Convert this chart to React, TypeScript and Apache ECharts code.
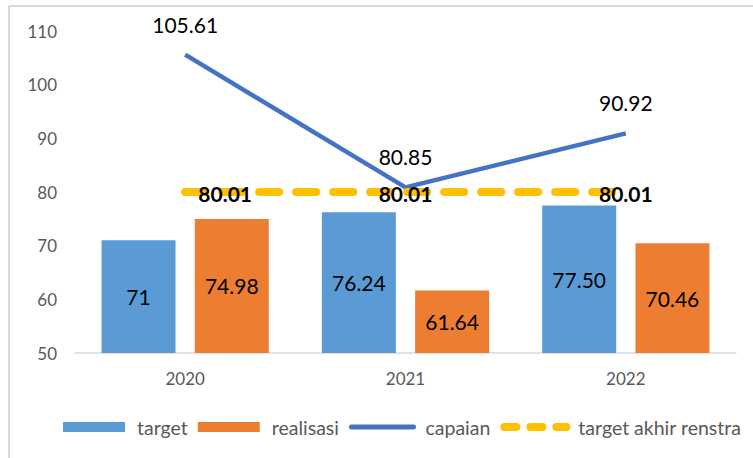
import React, { useEffect, useRef } from "react";
import * as echarts from "echarts";

const categories = ["2020", "2021", "2022"];
const targetValues = [71, 76.24, 77.5];
const targetLabels = ["71", "76.24", "77.50"];
const realisasiValues = [74.98, 61.64, 70.46];
const capaianValues = [105.61, 80.85, 90.92];
const renstraValues = [80.01, 80.01, 80.01];
const yTicks = { min: 50, max: 110, interval: 10 };

const FONT = "Lato, 'Noto Sans', sans-serif";

export default function App() {
  const ref = useRef<HTMLDivElement>(null);
  useEffect(() => {
    if (!ref.current) return;
    const chart = echarts.init(ref.current, undefined, { renderer: "svg" });
    chart.setOption({
      animation: false,
      backgroundColor: "#ffffff",
      textStyle: { fontFamily: FONT },
      grid: { left: 75, right: 17, top: 31, bottom: 105 },
      graphic: [
        { type: "line", shape: { x1: 9, y1: 6, x2: 753, y2: 6 }, style: { stroke: "#d9d9d9", lineWidth: 2 } },
        { type: "line", shape: { x1: 9, y1: 6, x2: 9, y2: 458 }, style: { stroke: "#d9d9d9", lineWidth: 2 } },
      ],
      legend: {
        top: 412,
        left: 58,
        itemWidth: 62,
        itemHeight: 10,
        itemGap: 10,
        textStyle: { fontSize: 19.5, color: "#595959", fontFamily: FONT, padding: [0, 0, 0, 7] },
        data: [
          { name: "target", icon: "rect" },
          { name: "realisasi", icon: "rect" },
          {
            name: "capaian",
            itemStyle: { opacity: 0 },
            lineStyle: { width: 5, color: "#4472C4", cap: "round" },
          },
          {
            name: "target akhir renstra",
            itemStyle: { opacity: 0 },
            lineStyle: { width: 8, color: "#FFC000", type: [12, 14], cap: "round" },
          },
        ],
      },
      xAxis: {
        type: "category",
        data: categories,
        axisLine: { show: true, lineStyle: { color: "#d9d9d9", width: 1.5 } },
        axisTick: { show: false },
        axisLabel: { fontSize: 17, color: "#595959", margin: 17, fontFamily: FONT },
      },
      yAxis: {
        type: "value",
        min: yTicks.min,
        max: yTicks.max,
        interval: yTicks.interval,
        splitLine: { show: false },
        axisLine: { show: false },
        axisTick: { show: false },
        axisLabel: { fontSize: 17, color: "#595959", margin: 18, fontFamily: FONT },
      },
      series: [
        {
          name: "target",
          type: "bar",
          data: targetValues,
          barWidth: 74,
          barGap: "26%",
          itemStyle: { color: "#5B9BD5" },
          label: {
            show: true,
            position: "inside",
            fontSize: 21,
            color: "#000",
            fontFamily: FONT,
            formatter: (p: any) => targetLabels[p.dataIndex],
          },
        },
        {
          name: "realisasi",
          type: "bar",
          data: realisasiValues,
          barWidth: 74,
          itemStyle: { color: "#ED7D31" },
          label: {
            show: true,
            position: "inside",
            fontSize: 21,
            color: "#000",
            fontFamily: FONT,
            formatter: (p: any) => p.value.toFixed(2),
          },
        },
        {
          name: "capaian",
          type: "line",
          data: capaianValues,
          symbol: "circle",
          symbolSize: 0.1,
          showSymbol: true,
          z: 3,
          lineStyle: { color: "#4472C4", width: 4.5 },
          itemStyle: { color: "#4472C4" },
          label: {
            show: true,
            position: "top",
            distance: 20,
            fontSize: 21,
            color: "#000",
            fontFamily: FONT,
            formatter: (p: any) => Number(p.value).toFixed(2),
          },
        },
        {
          name: "target akhir renstra",
          type: "line",
          z: 4,
          data: renstraValues.map((v, i) => ({
            value: v,
            label: { offset: i === 0 ? [40, 2] : [0, 2] },
          })),
          symbol: "circle",
          symbolSize: 0.1,
          showSymbol: true,
          lineStyle: { color: "#FFC000", width: 8, type: [20, 17], cap: "round" },
          itemStyle: { color: "#FFC000" },
          label: {
            show: true,
            position: "inside",
            fontSize: 21,
            fontWeight: "bold",
            color: "#000",
            fontFamily: FONT,
            formatter: (p: any) => Number(p.value).toFixed(2),
          },
        },
      ],
    });
    return () => chart.dispose();
  }, []);
  return (
    <div
      ref={ref}
      style={{ position: "absolute", left: 0, top: 0, width: 753, height: 458 }}
    />
  );
}
